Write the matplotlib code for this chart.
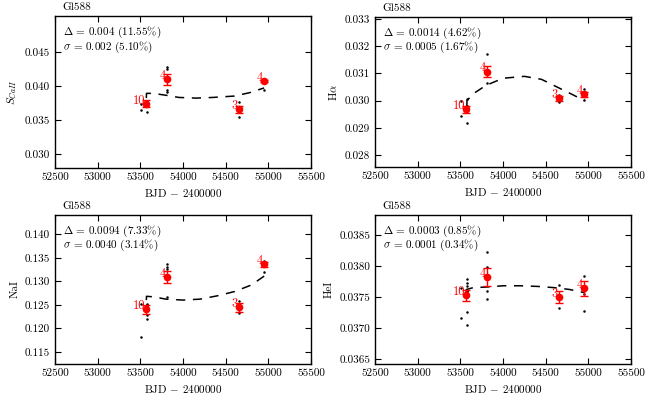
# activity indices of Gl588 vs time, 4 panels

import matplotlib
matplotlib.use("Agg")
import matplotlib.pyplot as plt
from matplotlib.ticker import FixedLocator, FormatStrFormatter

plt.rcParams['font.family'] = ['cmr10', 'DejaVu Serif']
plt.rcParams['mathtext.fontset'] = 'cm'
plt.rcParams['axes.formatter.use_mathtext'] = True
plt.rcParams['font.size'] = 8

# times of the single measurements (BJD - 2400000)
t_obs = [53510, 53512, 53572, 53574, 53575, 53576, 53577, 53578, 53579, 53580,
         53810, 53811, 53812, 53813,
         54654, 54655, 54656,
         54948, 54949, 54950, 54951]

# binned means: times and point counts
t_bin = [53563, 53809, 54650, 54945]
n_bin = ["10", "4", "3", "4"]

# S_CaII
ca_obs = [0.03647, 0.0374, 0.03608, 0.0373, 0.0375, 0.0376, 0.0377, 0.0374, 0.0378, 0.0375,
          0.04284, 0.04245, 0.03941, 0.03916,
          0.03769, 0.0366, 0.0354,
          0.03941, 0.0408, 0.0409, 0.0410]
ca_bin = [0.03735, 0.04098, 0.03657, 0.04074]
ca_err = [0.0005, 0.0008, 0.0005, 0.00015]
ca_fit_t = [53570, 53572, 53650, 53810, 53950, 54150, 54350, 54600, 54780, 54950]
ca_fit_y = [0.0382, 0.0389, 0.0389, 0.0386, 0.0383, 0.0382, 0.0383, 0.0385, 0.0390, 0.0397]

# H alpha
ha_obs = [0.02999, 0.02944, 0.03005, 0.02980, 0.02919, 0.0297, 0.0296, 0.0297, 0.0298, 0.0296,
          0.03171, 0.0311, 0.0310, 0.03064,
          0.02994, 0.0301, 0.0302,
          0.03042, 0.03002, 0.0302, 0.0303]
ha_bin = [0.02968, 0.03106, 0.03008, 0.03023]
ha_err = [0.00013, 0.0002, 0.0001, 0.0001]
ha_fit_t = [53575, 53577, 53650, 53800, 54000, 54250, 54450, 54650, 54800, 54950]
ha_fit_y = [0.0298, 0.0300, 0.03025, 0.03056, 0.03082, 0.03089, 0.03078, 0.03047, 0.03024, 0.0300]

# NaI
na_obs = [0.12509, 0.1181, 0.1228, 0.1219, 0.1240, 0.1245, 0.1250, 0.1242, 0.1248, 0.1252,
          0.13367, 0.1331, 0.13254, 0.1267,
          0.12586, 0.1245, 0.12317,
          0.13431, 0.1336, 0.1338, 0.13204]
na_bin = [0.12402, 0.13084, 0.12445, 0.13361]
na_err = [0.0009, 0.00125, 0.001, 0.0005]
na_fit_t = [53570, 53572, 53650, 53800, 54000, 54200, 54400, 54600, 54800, 54950]
na_fit_y = [0.1260, 0.1268, 0.1267, 0.1262, 0.1260, 0.1262, 0.1269, 0.1278, 0.1292, 0.1311]

# HeI
he_obs = [0.03765, 0.03716, 0.03779, 0.03772, 0.03767, 0.03725, 0.03705, 0.0376, 0.0375, 0.0376,
          0.03822, 0.03799, 0.0376, 0.03747,
          0.0377, 0.0375, 0.03733,
          0.03784, 0.0376, 0.03754, 0.03728]
he_bin = [0.03753, 0.03782, 0.0375, 0.03764]
he_err = [0.00009, 0.00015, 0.0001, 0.00012]
he_fit_t = [53565, 53570, 53650, 53810, 54000, 54200, 54400, 54600, 54780, 54950]
he_fit_y = [0.03758, 0.03762, 0.03765, 0.03766, 0.03768, 0.03768, 0.03767, 0.03765, 0.03762, 0.03757]

panels = [
    # rect, obs, bin, err, fit_t, fit_y, ylabel, ylim, yticks, fmt, delta text, sigma text
    ([0.0846, 0.58, 0.394, 0.38], ca_obs, ca_bin, ca_err, ca_fit_t, ca_fit_y,
     r"$S_{CaII}$", (0.0279, 0.0503), [0.030, 0.035, 0.040, 0.045], "%.3f",
     r"$\Delta$ = 0.004 (11.55%)", r"$\sigma$ = 0.002 (5.10%)"),
    ([0.577, 0.5825, 0.394, 0.375], ha_obs, ha_bin, ha_err, ha_fit_t, ha_fit_y,
     r"H$\alpha$", (0.02756, 0.03307), [0.028, 0.029, 0.030, 0.031, 0.032, 0.033], "%.3f",
     r"$\Delta$ = 0.0014 (4.62%)", r"$\sigma$ = 0.0005 (1.67%)"),
    ([0.0846, 0.09, 0.394, 0.3725], na_obs, na_bin, na_err, na_fit_t, na_fit_y,
     "NaI", (0.1124, 0.1441), [0.115, 0.120, 0.125, 0.130, 0.135, 0.140], "%.3f",
     r"$\Delta$ = 0.0094 (7.33%)", r"$\sigma$ = 0.0040 (3.14%)"),
    ([0.577, 0.09, 0.394, 0.3725], he_obs, he_bin, he_err, he_fit_t, he_fit_y,
     "HeI", (0.03642, 0.03882), [0.0365, 0.0370, 0.0375, 0.0380, 0.0385], "%.4f",
     r"$\Delta$ = 0.0003 (0.85%)", r"$\sigma$ = 0.0001 (0.34%)"),
]

fig = plt.figure(figsize=(6.5, 4), dpi=100)

for rect, obs, mean, err, ft, fy, ylab, ylim, yt, fmt, dtxt, stxt in panels:
    ax = fig.add_axes(rect)
    ax.plot(t_obs, obs, 'o', color='k', ms=1.8, mew=0, zorder=2)
    ax.plot(ft, fy, color='k', lw=1.1, dashes=(6, 5), zorder=3)
    ax.errorbar(t_bin, mean, yerr=err, fmt='o', color='red', ms=4.5,
                elinewidth=1, capsize=3, capthick=1, zorder=4)
    for t, m, n in zip(t_bin, mean, n_bin):
        ax.annotate(n, (t, m), xytext=(-0.5, -2), textcoords='offset points',
                    color='red', ha='right', va='bottom', fontsize=9, zorder=5)

    ax.set_xlim(52500, 55500)
    ax.set_ylim(*ylim)
    ax.xaxis.set_major_locator(FixedLocator([52500, 53000, 53500, 54000, 54500, 55000, 55500]))
    ax.xaxis.set_major_formatter(FormatStrFormatter("%d"))
    ax.yaxis.set_major_locator(FixedLocator(yt))
    ax.yaxis.set_major_formatter(FormatStrFormatter(fmt))
    ax.tick_params(direction='in', top=True, right=True, length=4, width=0.8, labelsize=8)
    for sp in ax.spines.values():
        sp.set_linewidth(1.0)

    ax.set_xlabel(r"BJD $-$ 2400000", fontsize=8, labelpad=3)
    ax.set_ylabel(ylab, fontsize=8)
    ax.text(0.03, 1.025, "Gl588", transform=ax.transAxes, ha='left', va='bottom', fontsize=8)
    ax.text(0.03, 0.89, dtxt, transform=ax.transAxes, ha='left', va='center', fontsize=8)
    ax.text(0.03, 0.795, stxt, transform=ax.transAxes, ha='left', va='center', fontsize=8)

fig.savefig("out.png", dpi=100)
